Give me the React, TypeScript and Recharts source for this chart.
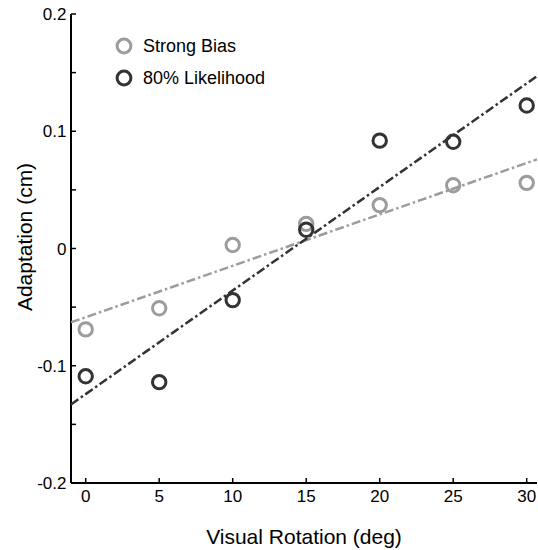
import React from "react";
import {
  ScatterChart,
  Scatter,
  XAxis,
  YAxis,
  Legend,
} from "recharts";

// visual rotation (deg)
const rotations = [0, 5, 10, 15, 20, 25, 30];
// adaptation (cm)
const strongBias = [-0.069, -0.051, 0.003, 0.021, 0.037, 0.054, 0.056];
const likelihood80 = [-0.109, -0.114, -0.044, 0.016, 0.092, 0.091, 0.122];

// dash-dot fit lines, end points at the axis box edges
const fitX = [-1, 30.7];
const strongBiasFit = [-0.063, 0.076];
const likelihood80Fit = [-0.133, 0.147];

const xTicks = [0, 5, 10, 15, 20, 25, 30];
const yTicks = [-0.2, -0.15, -0.1, -0.05, 0, 0.05, 0.1, 0.15, 0.2];

const GRAY = "#9c9c9c";
const DARK = "#333333";
const FONT = "'Liberation Sans', Arial, sans-serif";

const toPoints = (xs: number[], ys: number[]) =>
  xs.map((x, i) => ({ x, y: ys[i] }));

const fmtY = (v: number) => {
  if (Math.abs(v * 10 - Math.round(v * 10)) > 1e-6) return "";
  if (Math.abs(v) < 1e-9) return "0";
  return v.toFixed(1);
};

const ring = (color: string) => (props: any) =>
  (
    <circle
      cx={props.cx}
      cy={props.cy}
      r={6.7}
      fill="none"
      stroke={color}
      strokeWidth={3}
    />
  );

const noDot = () => <g />;

const legendItems = [
  { name: "Strong Bias", color: GRAY },
  { name: "80% Likelihood", color: DARK },
];

function ChartLegend() {
  return (
    <div style={{ fontFamily: FONT, fontSize: 18, color: "#000" }}>
      {legendItems.map((it) => (
        <div
          key={it.name}
          style={{ display: "flex", alignItems: "center", height: 32 }}
        >
          <svg width={20} height={20}>
            <circle
              cx={10}
              cy={10}
              r={6.9}
              fill="none"
              stroke={it.color}
              strokeWidth={3}
            />
          </svg>
          <span style={{ marginLeft: 9, whiteSpace: "nowrap" }}>{it.name}</span>
        </div>
      ))}
    </div>
  );
}

const axisLine = { stroke: "#000", strokeWidth: 2 };
const tickLine = { stroke: "#000", strokeWidth: 1.5 };
const tickStyle = { fill: "#000", fontSize: 17, fontFamily: FONT };

export default function App() {
  return (
    <div
      style={{
        position: "absolute",
        left: 0,
        top: 0,
        width: 538,
        height: 550,
        background: "#fff",
      }}
    >
      <ScatterChart
        width={538}
        height={550}
        margin={{ top: 14, right: 1, bottom: 37, left: 11 }}
      >
        <XAxis
          type="number"
          dataKey="x"
          domain={[-1, 30.7]}
          ticks={xTicks}
          allowDataOverflow
          height={30}
          axisLine={axisLine}
          tickLine={tickLine}
          tickSize={-5}
          tickMargin={12}
          tick={tickStyle}
        />
        <XAxis
          xAxisId="top"
          orientation="top"
          type="number"
          dataKey="x"
          domain={[-1, 30.7]}
          ticks={xTicks}
          allowDataOverflow
          height={0}
          axisLine={axisLine}
          tickLine={tickLine}
          tickSize={-5}
          tickFormatter={() => ""}
        />
        <YAxis
          type="number"
          dataKey="y"
          domain={[-0.2, 0.2]}
          ticks={yTicks}
          allowDataOverflow
          width={60}
          axisLine={axisLine}
          tickLine={tickLine}
          tickSize={-5}
          tickMargin={9.5}
          tick={tickStyle}
          tickFormatter={fmtY}
        />
        <YAxis
          yAxisId="right"
          orientation="right"
          type="number"
          dataKey="y"
          domain={[-0.2, 0.2]}
          ticks={yTicks}
          allowDataOverflow
          width={0}
          axisLine={axisLine}
          tickLine={tickLine}
          tickSize={-5}
          tickFormatter={() => ""}
        />
        <Legend
          layout="vertical"
          align="center"
          verticalAlign="middle"
          content={() => <ChartLegend />}
          wrapperStyle={{ position: "absolute", left: 114, top: 30, width: 200 }}
        />
        <Scatter
          name="Strong Bias fit"
          data={toPoints(fitX, strongBiasFit)}
          line={{ stroke: GRAY, strokeWidth: 2.5, strokeDasharray: "9 3 2.5 3" }}
          shape={noDot}
          legendType="none"
          isAnimationActive={false}
        />
        <Scatter
          name="80% Likelihood fit"
          data={toPoints(fitX, likelihood80Fit)}
          line={{ stroke: DARK, strokeWidth: 2.5, strokeDasharray: "9 3 2.5 3" }}
          shape={noDot}
          legendType="none"
          isAnimationActive={false}
        />
        <Scatter
          name="Strong Bias"
          data={toPoints(rotations, strongBias)}
          shape={ring(GRAY)}
          isAnimationActive={false}
        />
        <Scatter
          name="80% Likelihood"
          data={toPoints(rotations, likelihood80)}
          shape={ring(DARK)}
          isAnimationActive={false}
        />
      </ScatterChart>
      <div
        style={{
          position: "absolute",
          left: 304,
          top: 537,
          transform: "translate(-50%, -50%)",
          fontFamily: FONT,
          fontSize: 21,
          whiteSpace: "nowrap",
          color: "#000",
        }}
      >
        Visual Rotation (deg)
      </div>
      <div
        style={{
          position: "absolute",
          left: 25,
          top: 237,
          transform: "translate(-50%, -50%) rotate(-90deg)",
          fontFamily: FONT,
          fontSize: 21,
          whiteSpace: "nowrap",
          color: "#000",
        }}
      >
        Adaptation (cm)
      </div>
    </div>
  );
}
